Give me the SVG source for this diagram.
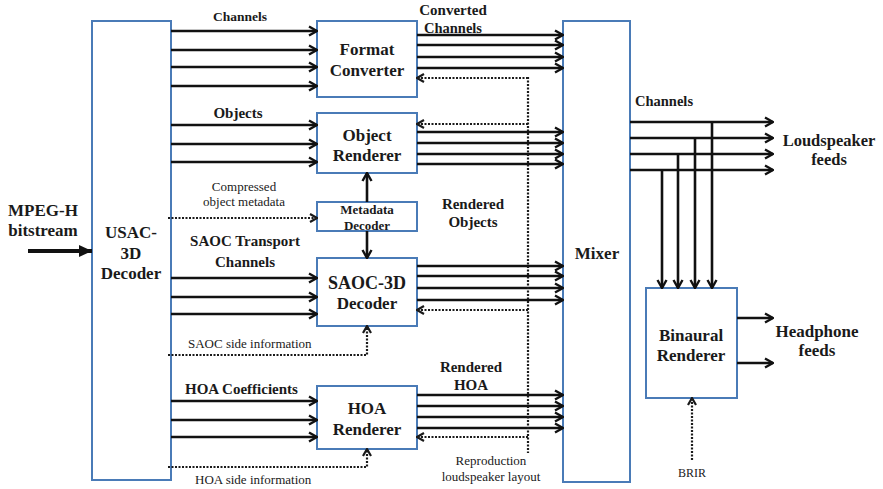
<svg xmlns="http://www.w3.org/2000/svg" width="883" height="489" viewBox="0 0 883 489">
  <style>
    .box { fill: #ffffff; stroke: #4a7bb7; stroke-width: 2; }
    .ln { fill: none; stroke: #111111; stroke-width: 2.6; }
    .dot { fill: none; stroke: #1a1a1a; stroke-width: 2.2; stroke-dasharray: 2 1.5; }
    .t { font-family: "Liberation Serif", "Times New Roman", serif; fill: #1a1a1a; }
    .b17 { font-size: 17px; font-weight: bold; text-anchor: middle; }
    .b15 { font-size: 15px; font-weight: bold; }
    .b13 { font-size: 13px; font-weight: bold; }
    .r13 { font-size: 13px; }
    .mid { text-anchor: middle; }
  </style>
  <defs>
    <marker id="arr" markerUnits="userSpaceOnUse" markerWidth="12" markerHeight="12" viewBox="0 0 12 12" refX="11" refY="6" orient="auto">
      <path d="M3,1.5 L11,6 L3,10.5" fill="none" stroke="#111111" stroke-width="2.4"/>
    </marker>
    <marker id="arrd" markerUnits="userSpaceOnUse" markerWidth="12" markerHeight="12" viewBox="0 0 12 12" refX="11" refY="6" orient="auto">
      <path d="M4,2 L11,6 L4,10" fill="none" stroke="#1a1a1a" stroke-width="2.2"/>
    </marker>
    <marker id="arrf" markerUnits="userSpaceOnUse" markerWidth="16" markerHeight="16" viewBox="0 0 16 16" refX="15" refY="8" orient="auto">
      <path d="M2,2 L15,8 L2,14 Z" fill="#111111"/>
    </marker>
  </defs>

  <!-- processing blocks -->
  <g id="usac">
    <rect class="box" x="92" y="21" width="79" height="459"/>
    <text class="t b17" x="131" y="238" font-size="16">USAC-</text>
    <text class="t b17" x="131" y="259">3D</text>
    <text class="t b17" x="131" y="279">Decoder</text>
  </g>
  <g id="format-converter">
    <rect class="box" x="317" y="21" width="100" height="76"/>
    <text class="t b17" x="367" y="55">Format</text>
    <text class="t b17" x="367" y="76">Converter</text>
  </g>
  <g id="object-renderer">
    <rect class="box" x="317" y="113" width="100" height="60"/>
    <text class="t b17" x="367" y="141">Object</text>
    <text class="t b17" x="367" y="161">Renderer</text>
  </g>
  <g id="metadata-decoder">
    <rect class="box" x="317" y="202" width="100" height="29"/>
    <text class="t b13 mid" x="367" y="214">Metadata</text>
    <text class="t b13 mid" x="367" y="230">Decoder</text>
  </g>
  <g id="saoc-decoder">
    <rect class="box" x="317" y="258" width="100" height="68"/>
    <text class="t b17" x="367" y="289" style="font-size:18px">SAOC-3D</text>
    <text class="t b17" x="367" y="309">Decoder</text>
  </g>
  <g id="hoa-renderer">
    <rect class="box" x="317" y="386" width="100" height="63"/>
    <text class="t b17" x="367" y="414">HOA</text>
    <text class="t b17" x="367" y="435">Renderer</text>
  </g>
  <g id="mixer">
    <rect class="box" x="563" y="21" width="67" height="461"/>
    <text class="t b17" x="597" y="259">Mixer</text>
  </g>
  <g id="binaural-renderer">
    <rect class="box" x="646" y="288" width="91" height="110"/>
    <text class="t b17" x="691" y="341">Binaural</text>
    <text class="t b17" x="691" y="361">Renderer</text>
  </g>

  <!-- connectors -->
  <g id="connectors">
    <!-- bitstream input -->
    <line x1="28" y1="251" x2="92" y2="251" stroke="#111111" stroke-width="4" marker-end="url(#arrf)"/>

    <!-- decoder outputs to renderers -->
    <g class="ln" marker-end="url(#arr)">
      <line x1="171" y1="31" x2="317" y2="31"/>
      <line x1="171" y1="50" x2="317" y2="50"/>
      <line x1="171" y1="67" x2="317" y2="67"/>
      <line x1="171" y1="86" x2="317" y2="86"/>
      <line x1="171" y1="125" x2="317" y2="125"/>
      <line x1="171" y1="144" x2="317" y2="144"/>
      <line x1="171" y1="162" x2="317" y2="162"/>
      <line x1="171" y1="278" x2="317" y2="278"/>
      <line x1="171" y1="297" x2="317" y2="297"/>
      <line x1="171" y1="314" x2="317" y2="314"/>
      <line x1="171" y1="401" x2="317" y2="401"/>
      <line x1="171" y1="420" x2="317" y2="420"/>
      <line x1="171" y1="437" x2="317" y2="437"/>

      <!-- metadata decoder links -->
      <line x1="367" y1="202" x2="367" y2="173"/>
      <line x1="367" y1="231" x2="367" y2="258"/>

      <!-- renderer outputs into mixer -->
      <line x1="417" y1="35" x2="563" y2="35"/>
      <line x1="417" y1="45" x2="563" y2="45"/>
      <line x1="417" y1="57" x2="563" y2="57"/>
      <line x1="417" y1="68" x2="563" y2="68"/>
      <line x1="417" y1="132" x2="563" y2="132"/>
      <line x1="417" y1="143" x2="563" y2="143"/>
      <line x1="417" y1="154" x2="563" y2="154"/>
      <line x1="417" y1="164" x2="563" y2="164"/>
      <line x1="417" y1="266" x2="563" y2="266"/>
      <line x1="417" y1="276" x2="563" y2="276"/>
      <line x1="417" y1="288" x2="563" y2="288"/>
      <line x1="417" y1="300" x2="563" y2="300"/>
      <line x1="417" y1="395" x2="563" y2="395"/>
      <line x1="417" y1="406" x2="563" y2="406"/>
      <line x1="417" y1="417" x2="563" y2="417"/>
      <line x1="417" y1="428" x2="563" y2="428"/>

      <!-- loudspeaker feeds -->
      <line x1="630" y1="122" x2="773" y2="122"/>
      <line x1="630" y1="138" x2="773" y2="138"/>
      <line x1="630" y1="154" x2="773" y2="154"/>
      <line x1="630" y1="170" x2="773" y2="170"/>

      <!-- taps into binaural renderer -->
      <line x1="712" y1="122" x2="712" y2="288"/>
      <line x1="695" y1="138" x2="695" y2="288"/>
      <line x1="678" y1="154" x2="678" y2="288"/>
      <line x1="662" y1="170" x2="662" y2="288"/>

      <!-- headphone feeds -->
      <line x1="737" y1="318" x2="773" y2="318"/>
      <line x1="737" y1="363" x2="773" y2="363"/>
    </g>

    <!-- side information (dotted) -->
    <g class="dot" marker-end="url(#arrd)">
      <line x1="168" y1="218" x2="317" y2="218"/>
      <polyline points="168,355 367,355 367,326"/>
      <polyline points="168,467 367,467 367,449"/>
      <line x1="528" y1="78" x2="417" y2="78"/>
      <line x1="528" y1="124" x2="417" y2="124"/>
      <line x1="528" y1="310" x2="417" y2="310"/>
      <line x1="528" y1="437" x2="417" y2="437"/>
      <line x1="692" y1="460" x2="692" y2="398"/>
    </g>
    <line class="dot" x1="528" y1="77" x2="528" y2="453"/>
  </g>

  <!-- labels -->
  <g id="labels">
    <text class="t b17" x="43" y="216">MPEG-H</text>
    <text class="t b17" x="43" y="236">bitstream</text>

    <text class="t b13 mid" x="240" y="21" style="font-size:13.5px">Channels</text>
    <text class="t b15 mid" x="238" y="118">Objects</text>
    <text class="t r13 mid" x="244" y="191">Compressed</text>
    <text class="t r13 mid" x="244" y="206">object metadata</text>
    <text class="t b15 mid" x="245" y="246">SAOC Transport</text>
    <text class="t b15 mid" x="245" y="267">Channels</text>
    <text class="t r13" x="188" y="348">SAOC side information</text>
    <text class="t b15" x="185" y="394">HOA Coefficients</text>
    <text class="t r13" x="195" y="484">HOA side information</text>

    <text class="t b15 mid" x="453" y="15">Converted</text>
    <text class="t b15 mid" x="453" y="33" style="font-size:14.5px">Channels</text>
    <text class="t b15 mid" x="473" y="209">Rendered</text>
    <text class="t b15 mid" x="473" y="227">Objects</text>
    <text class="t b15 mid" x="471" y="372">Rendered</text>
    <text class="t b15 mid" x="471" y="390">HOA</text>
    <text class="t r13 mid" x="491" y="465">Reproduction</text>
    <text class="t r13 mid" x="491" y="481">loudspeaker layout</text>

    <text class="t b15" x="635" y="106" style="font-size:14.5px">Channels</text>
    <text class="t b17" x="829" y="146" style="font-size:16.5px">Loudspeaker</text>
    <text class="t b17" x="829" y="165" style="font-size:16.5px">feeds</text>
    <text class="t b17" x="817" y="337">Headphone</text>
    <text class="t b17" x="817" y="356">feeds</text>
    <text class="t r13 mid" x="692" y="477" style="font-size:12px">BRIR</text>
  </g>
</svg>
